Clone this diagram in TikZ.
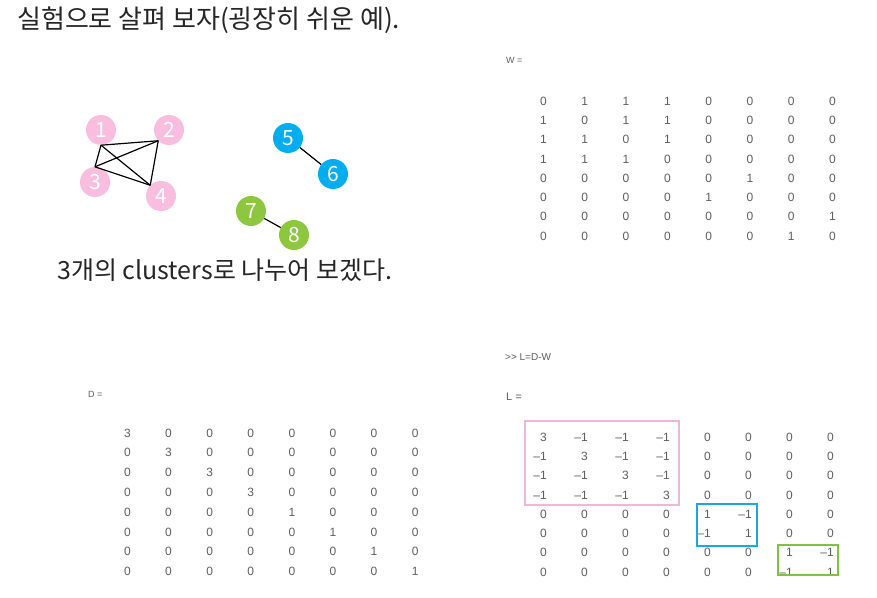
\documentclass[tikz,border=0pt]{standalone}
\usepackage{fontspec}
\newfontfamily\krfont{Noto Sans CJK KR}
\newfontfamily\matfont{Liberation Sans}
\definecolor{clpink}{HTML}{F9BEDF}
\definecolor{clblue}{HTML}{00AEEF}
\definecolor{clgreen}{HTML}{8DC63F}
\definecolor{boxpink}{HTML}{F2B5DA}
\definecolor{boxblue}{HTML}{1BA8E0}
\definecolor{boxgreen}{HTML}{7DC242}
\definecolor{txtgray}{HTML}{5F5F5F}
\tikzset{
  vertex/.style={circle, minimum size=30pt, inner sep=0pt, text=white, font=\krfont\fontsize{21}{21}\selectfont},
  entry/.style={anchor=east, inner sep=0pt, text=txtgray, font=\matfont\fontsize{12}{12}\selectfont},
  matname/.style={anchor=west, inner sep=0pt, text=txtgray, font=\matfont\fontsize{9}{9}\selectfont},
  edge/.style={line width=1.2pt, black},
}
\begin{document}
\begin{tikzpicture}[x=1pt, y=-1pt]
    \path[fill=white] (0,0) rectangle (877,597);

    % Titel
    \node[anchor=west, inner sep=0pt, text=black!85, font=\krfont\fontsize{26}{26}\selectfont] (title) at (17,20) {실험으로 살펴 보자(굉장히 쉬운 예).};
    \node[anchor=west, inner sep=0pt, text=black!85, font=\krfont\fontsize{25}{25}\selectfont] (subtitle) at (57,270) {3개의 clusters로 나누어 보겠다.};

    % Graph
    \node[vertex, fill=clpink] (n1) at (101,130) {1};
    \node[vertex, fill=clpink] (n2) at (169,130) {2};
    \node[vertex, fill=clpink] (n3) at (95,182) {3};
    \node[vertex, fill=clpink] (n4) at (161,196) {4};
    \node[vertex, fill=clblue] (n5) at (288,138) {5};
    \node[vertex, fill=clblue] (n6) at (333,174) {6};
    \node[vertex, fill=clgreen] (n7) at (251,211) {7};
    \node[vertex, fill=clgreen] (n8) at (294,235) {8};

    \draw[edge] (n1.south) -- (n2.south west);
    \draw[edge] (n1.south) -- (n3.north);
    \draw[edge] (n1.south) -- (n4.north west);
    \draw[edge] (n3.north) -- (n2.south west);
    \draw[edge] (n2.south west) -- (n4.north west);
    \draw[edge] (n3.north) -- (n4.north west);
    \draw[edge] (n5) -- (n6);
    \draw[edge] (n7) -- (n8);

    % W
    \node[matname] (wname) at (506,60) {W =};
    \foreach \row [count=\r] in {{0,1,1,1,0,0,0,0},{1,0,1,1,0,0,0,0},{1,1,0,1,0,0,0,0},{1,1,1,0,0,0,0,0},
                                 {0,0,0,0,0,1,0,0},{0,0,0,0,1,0,0,0},{0,0,0,0,0,0,0,1},{0,0,0,0,0,0,1,0}}
        \foreach \v [count=\c] in \row
            \node[entry] (w-\r-\c) at ({547+41.3*(\c-1)}, {101+19.3*(\r-1)}) {\v};

    % D
    \node[matname] (dname) at (88,394) {D =};
    \foreach \row [count=\r] in {{3,0,0,0,0,0,0,0},{0,3,0,0,0,0,0,0},{0,0,3,0,0,0,0,0},{0,0,0,3,0,0,0,0},
                                 {0,0,0,0,1,0,0,0},{0,0,0,0,0,1,0,0},{0,0,0,0,0,0,1,0},{0,0,0,0,0,0,0,1}}
        \foreach \v [count=\c] in \row
            \node[entry] (d-\r-\c) at ({131+41.1*(\c-1)}, {433+19.8*(\r-1)}) {\v};

    % L
    \node[matname, font=\matfont\fontsize{10}{10}\selectfont] (cmd) at (505,357) {>> L=D-W};
    \node[matname, font=\matfont\fontsize{11}{11}\selectfont] (lname) at (506,397) {L =};
    \foreach \row [count=\r] in {{3,–1,–1,–1,0,0,0,0},{–1,3,–1,–1,0,0,0,0},{–1,–1,3,–1,0,0,0,0},{–1,–1,–1,3,0,0,0,0},
                                 {0,0,0,0,1,–1,0,0},{0,0,0,0,–1,1,0,0},{0,0,0,0,0,0,1,–1},{0,0,0,0,0,0,–1,1}}
        \foreach \v [count=\c] in \row
            \node[entry] (l-\r-\c) at ({547+41*(\c-1)}, {437+19.3*(\r-1)}) {\v};

    % Cluster-Rahmen
    \draw[boxpink, line width=1.4pt] (525,421) rectangle (679,505);
    \draw[boxblue, line width=1.6pt] (697,504) rectangle (757,546);
    \draw[boxgreen, line width=1.6pt] (778,545) rectangle (838,575);
\end{tikzpicture}
\end{document}
